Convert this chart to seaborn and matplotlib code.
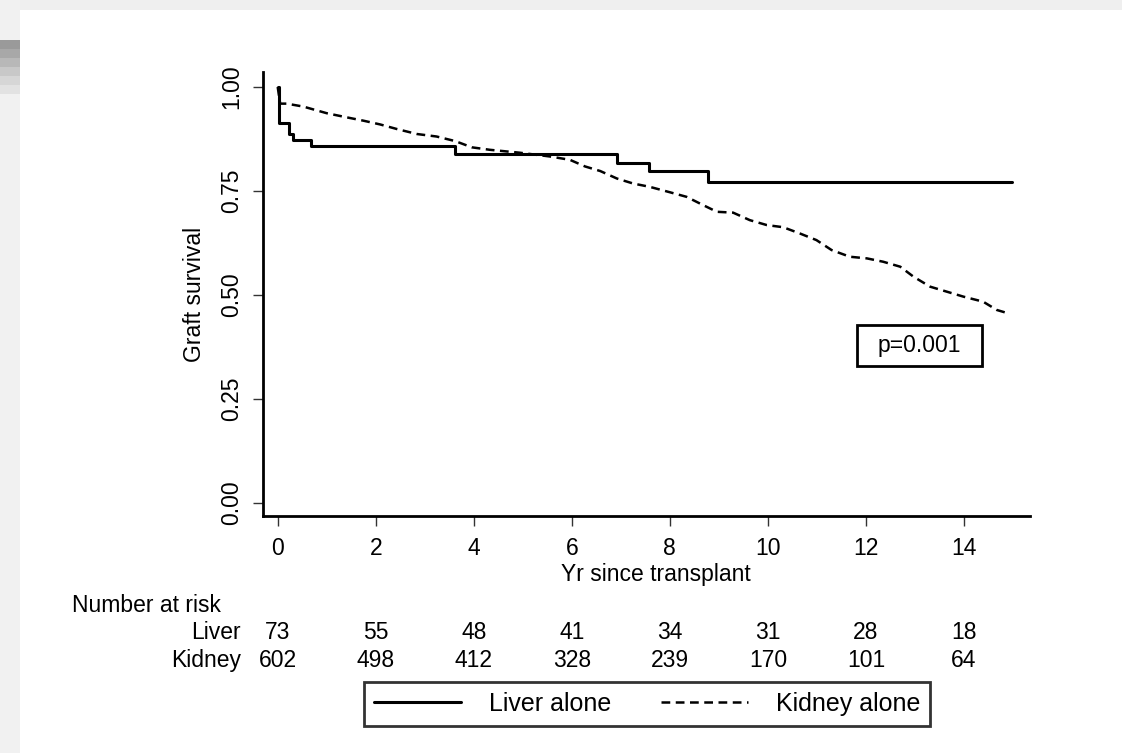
import numpy as np
import pandas as pd
import matplotlib
matplotlib.use("Agg")
import matplotlib.pyplot as plt
import matplotlib.transforms as mtransforms
from matplotlib.patches import Rectangle
from matplotlib.lines import Line2D
import seaborn as sns

# ---------------- data ----------------
liver_time = [0.0, 0.02, 0.23, 0.31, 0.67, 3.62, 6.92, 7.57, 8.78, 14.97]
liver_surv = [1.0, 0.914, 0.887, 0.873, 0.858, 0.839, 0.817, 0.797, 0.772, 0.772]

kidney_time = [0.0, 0.05, 0.18, 0.52, 1.0, 1.41, 1.75, 2.09, 2.43, 2.84, 3.24, 3.62,
               3.96, 4.33, 4.94, 5.55, 5.96, 6.27, 6.58, 6.92, 7.25, 7.59, 8.0, 8.34,
               8.68, 8.96, 9.29, 9.63, 9.98, 10.31, 10.65, 10.99, 11.30, 11.67, 12.02,
               12.35, 12.70, 12.97, 13.31, 13.65, 13.99, 14.39, 14.67, 14.90]
kidney_surv = [1.0, 0.96, 0.96, 0.953, 0.937, 0.927, 0.919, 0.910, 0.899, 0.887, 0.881, 0.870,
               0.855, 0.849, 0.842, 0.833, 0.825, 0.809, 0.798, 0.780, 0.768, 0.760, 0.747, 0.736,
               0.716, 0.700, 0.698, 0.680, 0.668, 0.663, 0.648, 0.632, 0.608, 0.592, 0.588,
               0.580, 0.568, 0.544, 0.520, 0.508, 0.496, 0.484, 0.464, 0.456]

risk_times = [0, 2, 4, 6, 8, 10, 12, 14]
risk_liver = [73, 55, 48, 41, 34, 31, 28, 18]
risk_kidney = [602, 498, 412, 328, 239, 170, 101, 64]
risk_rows = ["Liver", "Kidney"]
series_names = ["Liver alone", "Kidney alone"]
y_ticks = [0.0, 0.25, 0.5, 0.75, 1.0]
y_ticklabels = ["0.00", "0.25", "0.50", "0.75", "1.00"]
p_text = "p=0.001"

# ---------------- style ----------------
sns.set_theme(style="white")
plt.rcParams['font.family'] = ['Liberation Sans', 'DejaVu Sans']
for k in ["text.color", "axes.labelcolor", "xtick.color", "ytick.color"]:
    plt.rcParams[k] = "black"
FS = 16.5

W, H = 1122, 753
fig = plt.figure(figsize=(W / 100, H / 100), dpi=100)
fig.patch.set_facecolor("white")

# window-like background strips
fig.patches.append(Rectangle((0, 1 - 10 / H), 1, 10 / H, transform=fig.transFigure,
                             facecolor="#efefef", edgecolor="none", zorder=0))
fig.patches.append(Rectangle((0, 0), 20 / W, 1, transform=fig.transFigure,
                             facecolor="#f1f1f1", edgecolor="none", zorder=0))
grad = ["#9a9a9a", "#a8a8a8", "#b8b8b8", "#c8c8c8", "#d6d6d6", "#e2e2e2"]
for i, c in enumerate(grad):
    y0 = 40 + i * 9
    fig.patches.append(Rectangle((0, 1 - (y0 + 9) / H), 20 / W, 9 / H, transform=fig.transFigure,
                                 facecolor=c, edgecolor="none", zorder=0))

# axes placement (pixels)
axL, axR, axT, axB = 262.7, 1030, 72, 516
ax = fig.add_axes([axL / W, 1 - axB / H, (axR - axL) / W, (axB - axT) / H])
ax.set_facecolor("white")

liver_df = pd.DataFrame({"time": liver_time, "surv": liver_surv})
kidney_df = pd.DataFrame({"time": kidney_time, "surv": kidney_surv})

sns.lineplot(data=liver_df, x="time", y="surv", ax=ax, color="black", lw=2.2,
             drawstyle="steps-post", estimator=None, sort=False)
sns.lineplot(data=kidney_df, x="time", y="surv", ax=ax, color="black", lw=1.8,
             dashes=False, estimator=None, sort=False, linestyle=(0, (3.5, 2.2)))

# limits: 0 at px 503, 1 at px 87 ; x 0 at 277.7, 49.02 px per unit
ax.set_ylim(-(axB - 503) / 416, 1 + (87 - axT) / 416)
ax.set_xlim((axL - 277.7) / 49.02, (axR - 277.7) / 49.02)

ax.set_yticks(y_ticks)
ax.set_yticklabels(y_ticklabels, rotation=90, va="center", fontsize=FS)
ax.set_xticks(risk_times)
ax.set_xticklabels([str(t) for t in risk_times], fontsize=FS)
ax.tick_params(axis="both", which="both", direction="out", length=7, width=1,
               color="#333333", labelcolor="black", bottom=True, left=True)
ax.tick_params(axis="y", pad=7)
ax.tick_params(axis="x", pad=8)

for s in ["top", "right"]:
    ax.spines[s].set_visible(False)
for s in ["left", "bottom"]:
    ax.spines[s].set_color("black")
    ax.spines[s].set_linewidth(2)

ax.set_xlabel("Yr since transplant", fontsize=FS, labelpad=0)
ax.xaxis.set_label_coords((656 - axL) / (axR - axL), -(577 - axB + 4) / (axB - axT))
ax.xaxis.label.set_va("baseline")
ax.set_ylabel("Graft survival", fontsize=FS)
ax.yaxis.set_label_coords((206 - axL) / (axR - axL), 0.5)

# p-value box
x0 = (856.7 - 277.7) / 49.02
x1 = (981.7 - 277.7) / 49.02
y0 = (503 - 366) / 416
y1 = (503 - 325) / 416
ax.add_patch(Rectangle((x0, y0), x1 - x0, y1 - y0, facecolor="white", edgecolor="black",
                       lw=2, zorder=5))
ax.text((x0 + x1) / 2, (y0 + y1) / 2, p_text, ha="center", va="center", fontsize=FS,
        zorder=6)

# number at risk table
fig.text(72 / W, 1 - 612 / H, "Number at risk", ha="left", va="baseline", fontsize=FS)
trans = mtransforms.blended_transform_factory(ax.transData, fig.transFigure)
row_base = [639, 667]
for name, vals, yb in zip(risk_rows, [risk_liver, risk_kidney], row_base):
    fig.text(241 / W, 1 - yb / H, name, ha="right", va="baseline", fontsize=FS)
    for t, v in zip(risk_times, vals):
        ax.text(t, 1 - yb / H, str(v), transform=trans, ha="center", va="baseline",
                fontsize=FS, clip_on=False)

# legend
handles = [Line2D([], [], color="black", lw=2.2),
           Line2D([], [], color="black", lw=1.8, linestyle=(0, (3.5, 2.2)))]
leg = fig.legend(handles, series_names, loc="center", bbox_to_anchor=(647 / W, 1 - 704 / H),
                 ncol=2, frameon=True, fancybox=False, edgecolor="black", fontsize=18,
                 handlelength=3.5, handletextpad=1.1, columnspacing=2.0, borderpad=0.4)
leg.get_frame().set_linewidth(2)

fig.savefig("out.png", dpi=100, facecolor="white")
